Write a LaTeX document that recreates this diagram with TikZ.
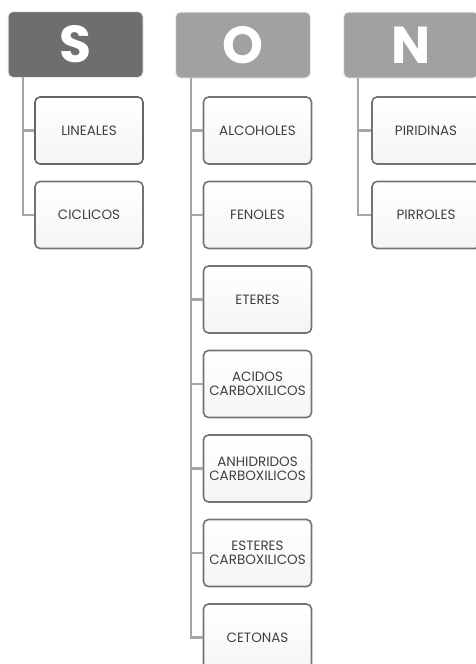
\documentclass[tikz,border=0pt]{standalone}
\usepackage{fontspec}
\setmainfont{Poppins}
\tikzset{
  head/.style={draw=gray!15, line width=1pt, rounded corners=5pt, minimum width=135pt, minimum height=66pt, text=white, font=\fontsize{52}{52}\selectfont\bfseries},
  item/.style={draw=gray!90!black, line width=1.6pt, rounded corners=5pt, top color=white, bottom color=gray!8, minimum width=108pt, minimum height=67pt, align=center, font=\fontsize{13.5}{14}\selectfont, text=black!75},
  branch/.style={draw=gray!70, line width=2.4pt}
}
\begin{document}
\begin{tikzpicture}[x=1pt, y=-1pt]
				\def\top{130.5}
				\def\step{84.5}
				
				\useasboundingbox (0,0) rectangle (475,664);
				
				% headers
				\node[head, fill=black!57] (hS) at (75.5,44.5) {S};
				\node[head, fill=black!37] (hO) at (243,45) {O};
				\node[head, fill=black!37] (hN) at (411,45) {N};
				
				\coordinate (sS) at (22.7,77);
				\coordinate (sO) at (190.7,78);
				\coordinate (sN) at (358,78);
				
				% S
				\node[item, draw=black!60] (lin) at (89,\top) {LINEALES};
				\node[item] (cic) at (89,\top+\step) {CICLICOS};
				\draw[branch] (sS) |- (lin.west);
				\draw[branch] (sS) |- (cic.west);
				
				% O
				\foreach \i/\name/\txt in {0/alc/ALCOHOLES, 1/fen/FENOLES, 2/ete/ETERES,
				    3/aci/{ACIDOS\\CARBOXILICOS}, 4/anh/{ANHIDRIDOS\\CARBOXILICOS},
				    5/est/{ESTERES\\CARBOXILICOS}, 6/cet/CETONAS} {
				  \node[item] (\name) at (257.5,\top+\i*\step) {\txt};
				  \draw[branch] (sO) |- (\name.west);
				}
				
				% N
				\node[item] (pir) at (426,\top) {PIRIDINAS};
				\node[item] (pirr) at (426,\top+\step) {PIRROLES};
				\draw[branch] (sN) |- (pir.west);
				\draw[branch] (sN) |- (pirr.west);
			\end{tikzpicture}
\end{document}
